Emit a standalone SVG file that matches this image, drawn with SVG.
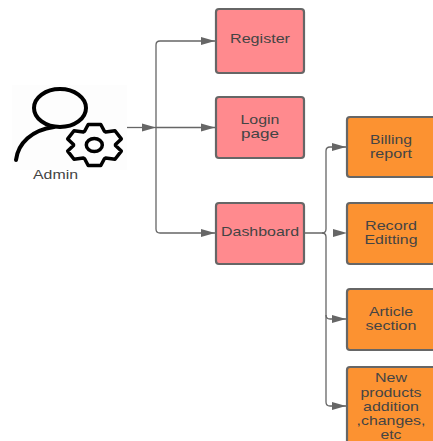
<svg xmlns="http://www.w3.org/2000/svg" width="433" height="441" viewBox="0 0 433 441">
<style>
.c{fill:none;stroke:#666;stroke-width:1.3}
.p{fill:#ff8a8e;stroke:#666;stroke-width:2.2}
.o{fill:#fc9231;stroke:#666;stroke-width:2.2}
text{font-family:"Liberation Sans",Arial,sans-serif;font-size:13.5px;fill:#444;text-anchor:middle}
.i{fill:none;stroke:#000;stroke-linecap:round;stroke-linejoin:round}
</style>
<defs><marker id="a" markerUnits="userSpaceOnUse" markerWidth="14" markerHeight="10" refX="14" refY="5" orient="auto"><path d="M0 1L14 5L0 9Z" fill="#666"/></marker></defs>
<rect width="433" height="441" fill="#fff"/>
<g id="connectors">
<path class="c" d="M127 127.5H156" marker-end="url(#a)"/>
<path class="c" d="M156 127.5H215" marker-end="url(#a)"/>
<path class="c" d="M215 41H160Q156 41 156 45V229Q156 233 160 233H215"/>
<path d="M201 37L215 41L201 45Z M201 229L215 233L201 237Z" fill="#666"/>
<path class="c" d="M304 233H322Q326 233 326 229V151Q326 147 330 147H346" marker-end="url(#a)"/>
<path class="c" d="M322 233Q326 233 326 237V315Q326 319 330 319H346" marker-end="url(#a)"/>
<path class="c" d="M326 315V402Q326 406 330 406H346" marker-end="url(#a)"/>
<path d="M333 229L347 233L333 237Z" fill="#666"/>
</g>
<g id="admin">
<rect x="12" y="85" width="115" height="85" fill="#fdfdfd"/>
<ellipse class="i" cx="60" cy="108" rx="26" ry="19" stroke-width="4"/>
<path class="i" stroke-width="4" d="M16 160C18 143 32 130 54 127"/>
<path class="i" stroke-width="3.5" d="M84.6 131.3L88.2 124.5H100.8L104.4 131.3L105.6 131.9L115 130.7L121.3 138.9L115.5 144.5V145.5L121.3 151.1L115 159.3L105.6 158.1L104.4 158.7L100.8 165.5H88.2L84.6 158.7L83.4 158.1L74 159.3L67.7 151.1L73.5 145.5V144.5L67.7 138.9L74 130.7L83.4 131.9Z"/>
<ellipse class="i" cx="94.3" cy="145" rx="8" ry="6.5" stroke-width="3.5"/>
<text x="55.5" y="179" textLength="45" lengthAdjust="spacingAndGlyphs">Admin</text>
</g>
<g id="register"><rect class="p" x="216" y="9" width="88" height="64" rx="3"/><text x="260" y="43" textLength="60" lengthAdjust="spacingAndGlyphs">Register</text></g>
<g id="login"><rect class="p" x="216" y="97" width="88" height="61" rx="3"/><text x="260" y="124" textLength="39" lengthAdjust="spacingAndGlyphs">Login</text><text x="260" y="138" textLength="38" lengthAdjust="spacingAndGlyphs">page</text></g>
<g id="dashboard"><rect class="p" x="216" y="203" width="88" height="61" rx="3"/><text x="260" y="236" textLength="78" lengthAdjust="spacingAndGlyphs">Dashboard</text></g>
<g id="billing"><rect class="o" x="347" y="117" width="90" height="60" rx="3"/><text x="391" y="144" textLength="42" lengthAdjust="spacingAndGlyphs">Billing</text><text x="391" y="158" textLength="42" lengthAdjust="spacingAndGlyphs">report</text></g>
<g id="record"><rect class="o" x="347" y="203" width="90" height="61" rx="3"/><text x="391" y="230" textLength="52" lengthAdjust="spacingAndGlyphs">Record</text><text x="391" y="244" textLength="53" lengthAdjust="spacingAndGlyphs">Editting</text></g>
<g id="article"><rect class="o" x="347" y="289" width="90" height="61" rx="3"/><text x="391" y="316" textLength="44" lengthAdjust="spacingAndGlyphs">Article</text><text x="391" y="330" textLength="51" lengthAdjust="spacingAndGlyphs">section</text></g>
<g id="new"><rect class="o" x="347" y="367" width="90" height="80" rx="3"/><text x="391" y="382" textLength="32" lengthAdjust="spacingAndGlyphs">New</text><text x="391" y="396.5" textLength="61" lengthAdjust="spacingAndGlyphs">products</text><text x="391" y="411" textLength="56" lengthAdjust="spacingAndGlyphs">addition</text><text x="391" y="425" textLength="69" lengthAdjust="spacingAndGlyphs">,changes,</text><text x="391" y="439" textLength="21" lengthAdjust="spacingAndGlyphs">etc</text></g>
</svg>
